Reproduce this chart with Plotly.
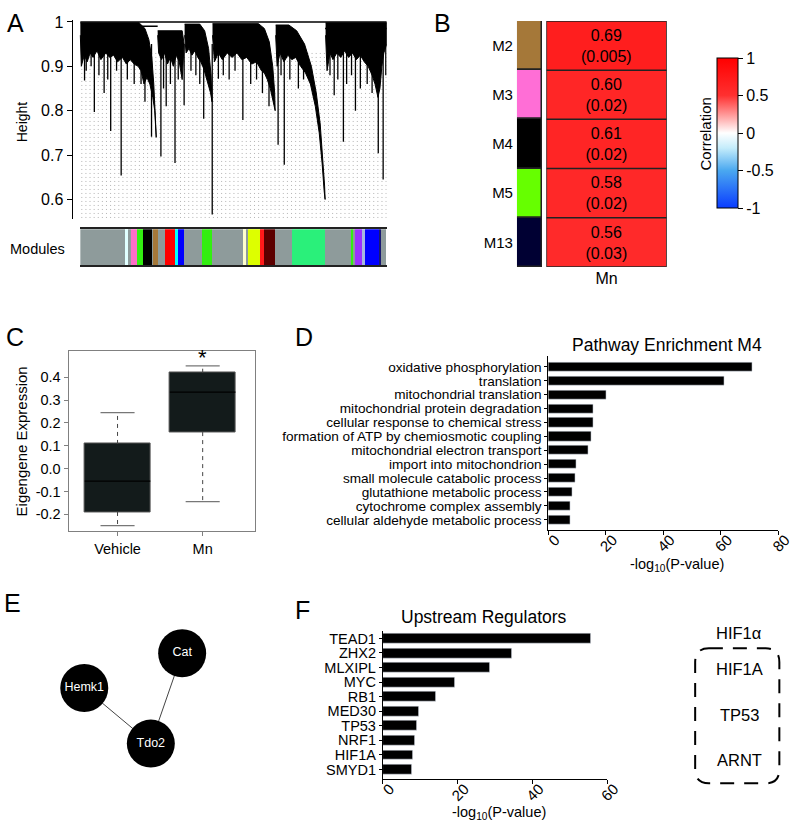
import plotly.graph_objects as go

W, H = 810, 828
FONT = "Arial, Liberation Sans, Helvetica, sans-serif"


def px(x):
    return x / W


def py(y):
    return 1 - y / H


# ---------------- A: dendrogram (leaf units 0..313) ----------------
# outline of each black branch mass: leaf position and height
cluster_leaf = [
    [0, 60, 66, 70, 73, 75, 76.5, 77.5, 76, 74, 71, 68, 65, 62, 59, 55, 51, 47, 43, 38, 34, 30,
     26, 21, 17, 13, 10, 7, 4, 1, 0],
    [79, 104, 106, 105, 104, 101, 98, 95, 92, 89, 86, 83, 80, 79],
    [106.5, 122, 127, 131, 133.5, 134.5, 133, 129, 126, 123, 120, 117, 114, 111, 108, 106.5],
    [135, 182, 188, 193, 196.5, 198.5, 199, 197, 194, 191, 188, 185, 180, 175, 170, 165, 160,
     155, 150, 145, 141, 137, 135],
    [199.5, 213, 221, 229, 236, 241, 245, 248, 249.5, 250, 249, 247, 244, 240, 235, 230, 225,
     220, 216, 212, 208, 204, 201, 199.5],
    [250.5, 313, 313, 310, 308, 306, 304, 301, 298, 294, 290, 286, 282, 278, 274, 270, 266, 262,
     258, 255, 252, 250.5],
]
cluster_height = [
    [0.998, 0.998, 0.985, 0.96, 0.92, 0.86, 0.79, 0.74, 0.80, 0.83, 0.86, 0.875, 0.86, 0.89,
     0.90, 0.905, 0.915, 0.905, 0.92, 0.91, 0.925, 0.92, 0.93, 0.915, 0.935, 0.92, 0.93, 0.91,
     0.925, 0.90, 0.97],
    [0.98, 0.98, 0.95, 0.90, 0.87, 0.91, 0.925, 0.90, 0.92, 0.905, 0.93, 0.915, 0.93, 0.97],
    [0.995, 0.995, 0.98, 0.94, 0.88, 0.82, 0.84, 0.87, 0.895, 0.91, 0.92, 0.935, 0.925, 0.94,
     0.93, 0.97],
    [0.996, 0.996, 0.985, 0.955, 0.90, 0.84, 0.80, 0.82, 0.85, 0.87, 0.885, 0.89, 0.91, 0.905,
     0.92, 0.915, 0.93, 0.92, 0.93, 0.915, 0.93, 0.91, 0.97],
    [0.993, 0.993, 0.98, 0.95, 0.90, 0.84, 0.77, 0.69, 0.63, 0.60, 0.62, 0.68, 0.75, 0.81, 0.86,
     0.885, 0.90, 0.92, 0.915, 0.925, 0.91, 0.93, 0.90, 0.97],
    [0.998, 0.998, 0.95, 0.93, 0.90, 0.85, 0.83, 0.86, 0.88, 0.90, 0.91, 0.925, 0.915, 0.93,
     0.92, 0.935, 0.92, 0.93, 0.915, 0.93, 0.89, 0.97],
]
drip_leaf = [4.3, 6, 11, 14.3, 19, 24.3, 28, 31, 37, 41.7, 48, 55, 62, 66, 72.7, 82.3, 85, 87.7,
             92, 96.7, 100, 106, 113, 118, 122, 126, 134.7, 141, 146, 152, 158, 166, 174, 180,
             186, 192.7, 202, 205, 208.3, 214, 222.7, 228, 255, 259.3, 263, 268.7, 272, 277,
             281, 286, 293, 298, 304.3, 309.3, 312]
drip_height = [0.868, 0.89, 0.90, 0.797, 0.88, 0.84, 0.87, 0.754, 0.89, 0.654, 0.87, 0.86, 0.86,
               0.82, 0.741, 0.697, 0.85, 0.81, 0.86, 0.682, 0.87, 0.812, 0.89, 0.88, 0.86, 0.782,
               0.566, 0.872, 0.88, 0.87, 0.89, 0.779, 0.86, 0.87, 0.84, 0.81, 0.723, 0.88, 0.678,
               0.87, 0.85, 0.87, 0.88, 0.835, 0.87, 0.73, 0.86, 0.88, 0.80, 0.85, 0.86, 0.84,
               0.704, 0.645, 0.88]
module_colors = ["#8e9b9b", "#e0ffff", "#8e9b9b", "#ff6ec7", "#33ee11", "#000000", "#8e9b9b",
                 "#a57839", "#8e9b9b", "#ff0000", "#00ffff", "#0000ff", "#8e9b9b", "#33ee11",
                 "#8e9b9b", "#ffffcc", "#8e9b9b", "#ddff00", "#ff1a1a", "#5c0000", "#8e9b9b",
                 "#2af07a", "#8e9b9b", "#33ee11", "#8e9b9b", "#9b30ff", "#a8b8e0", "#0000ff",
                 "#191970", "#8e9b9b"]
module_widths = [46, 3.3, 2.4, 7, 5.6, 9.4, 0.6, 5, 7.4, 10, 3.3, 6, 18.3, 10.7, 31.7, 2.6,
                 2.4, 12, 4, 11.6, 17.7, 33.3, 26.7, 2.3, 1.7, 6.7, 3.3, 14, 2.7, 5.3]

# ---------------- B: module-trait correlation ----------------
modules = ["M2", "M3", "M4", "M5", "M13"]
module_swatch = ["#a57839", "#ff6ed6", "#000000", "#66ff00", "#000033"]
corr = [0.69, 0.60, 0.61, 0.58, 0.56]
pvals = ["0.005", "0.02", "0.02", "0.02", "0.03"]
trait = ["Mn"]

# ---------------- C: eigengene boxplot ----------------
groups = ["Vehicle", "Mn"]
q1 = [-0.19, 0.16]
med = [-0.055, 0.335]
q3 = [0.108, 0.42]
lower = [-0.25, -0.145]
upper = [0.245, 0.45]

# ---------------- D: pathway enrichment ----------------
pathways = ["oxidative phosphorylation", "translation", "mitochondrial translation",
            "mitochondrial protein degradation", "cellular response to chemical stress",
            "formation of ATP by chemiosmotic coupling", "mitochondrial electron transport",
            "import into mitochondrion", "small molecule catabolic process",
            "glutathione metabolic process", "cytochrome complex assembly",
            "cellular aldehyde metabolic process"]
pathway_logp = [71.1, 61.2, 20.1, 15.6, 15.5, 14.8, 14.0, 9.9, 9.3, 8.3, 7.8, 7.5]

# ---------------- E: network ----------------
nodes = ["Cat", "Hemk1", "Tdo2"]
node_x = [183, 83, 151]
node_y = [652, 687, 743]
edges = [("Hemk1", "Tdo2"), ("Cat", "Tdo2")]

# ---------------- F: upstream regulators ----------------
regulators = ["TEAD1", "ZHX2", "MLXIPL", "MYC", "RB1", "MED30", "TP53", "NRF1", "HIF1A", "SMYD1"]
regulator_logp = [55.7, 34.6, 28.6, 19.4, 14.2, 9.5, 9.1, 8.5, 8.0, 7.7]
hif_members = ["HIF1A", "TP53", "ARNT"]

fig = go.Figure()

# A: faint hanging guides
gx, gy = [], []
g = 1.5
while g < 313:
    gx += [g, g, None]
    gy += [0.93, 0.552, None]
    g += 4.2
fig.add_trace(go.Scatter(x=gx, y=gy, mode="lines", xaxis="x", yaxis="y",
                         line=dict(color="#b4b4b4", width=1, dash="1px,3px")))

# A: drips
dx, dy = [], []
for x, h in zip(drip_leaf, drip_height):
    dx += [x, x, None]
    dy += [0.95, h, None]
fig.add_trace(go.Scatter(x=dx, y=dy, mode="lines", xaxis="x", yaxis="y",
                         line=dict(color="black", width=1.3)))

# A: branch masses
for lx, lh in zip(cluster_leaf, cluster_height):
    fig.add_trace(go.Scatter(x=lx, y=lh, fill="toself", fillcolor="black", mode="lines",
                             line=dict(color="black", width=1), xaxis="x", yaxis="y"))
fig.add_trace(go.Scatter(x=[0, 313, None, 60, 79, None, 250, 313],
                         y=[1.0, 1.0, None, 0.99, 0.99, None, 0.985, 0.985],
                         mode="lines", xaxis="x", yaxis="y",
                         line=dict(color="black", width=1.5)))

# A: module colour bar
starts = []
acc = 0
for w in module_widths:
    starts.append(acc)
    acc += w
fig.add_trace(go.Bar(x=module_widths, base=starts, y=[0] * len(module_widths), orientation="h",
                     width=1, marker=dict(color=module_colors, line=dict(width=0)),
                     xaxis="x2", yaxis="y2"))

# B: swatches and heatmap
fig.add_trace(go.Bar(x=[1] * len(modules), base=[-0.5] * len(modules), y=modules,
                     orientation="h", width=1,
                     marker=dict(color=module_swatch, line=dict(color="#222", width=1.5)),
                     xaxis="x3", yaxis="y3"))
fig.add_trace(go.Heatmap(
    z=[[c] for c in corr], x=trait, y=modules, zmin=-1, zmax=1,
    text=[[f"{c:.2f}<br>({p})"] for c, p in zip(corr, pvals)],
    texttemplate="%{text}", textfont=dict(size=16, color="black", family=FONT),
    colorscale=[[0, "#0a3cff"], [0.25, "#4aa8f0"], [0.4, "#c4ecfb"], [0.5, "#ffffff"],
                [0.62, "#ff9a9a"], [0.75, "#ff3030"], [1, "#ff0000"]],
    colorbar=dict(x=px(729), xanchor="left", xpad=0, y=py(128), yanchor="middle", ypad=0,
                  len=150, lenmode="pixels", thickness=21, outlinecolor="black",
                  outlinewidth=1, ticks="outside", ticklen=5, tickcolor="black",
                  tickvals=[-1, -0.5, 0, 0.5, 1], ticktext=["-1", "-0.5", "0", "0.5", "1"],
                  tickfont=dict(size=16)),
    xaxis="x4", yaxis="y4"))

# C: boxplot drawn from quartiles
xpos = list(range(len(groups)))
fig.add_trace(go.Bar(x=xpos, y=[b - a for a, b in zip(q1, q3)], base=q1, width=0.77,
                     marker=dict(color="#131b1b", line=dict(color="#555", width=1)),
                     xaxis="x5", yaxis="y5"))
wx, wy, cx, cy, mx, my = [], [], [], [], [], []
for i in xpos:
    wx += [i, i, None, i, i, None]
    wy += [q3[i], upper[i], None, q1[i], lower[i], None]
    cx += [i - 0.2, i + 0.2, None, i - 0.2, i + 0.2, None]
    cy += [upper[i], upper[i], None, lower[i], lower[i], None]
    mx += [i - 0.385, i + 0.385, None]
    my += [med[i], med[i], None]
fig.add_trace(go.Scatter(x=wx, y=wy, mode="lines", line=dict(color="#444", width=1, dash="4px,4px"),
                         xaxis="x5", yaxis="y5"))
fig.add_trace(go.Scatter(x=cx, y=cy, mode="lines", line=dict(color="#777", width=1.2),
                         xaxis="x5", yaxis="y5"))
fig.add_trace(go.Scatter(x=mx, y=my, mode="lines", line=dict(color="#000", width=1.2),
                         xaxis="x5", yaxis="y5"))

# D: pathway bars
fig.add_trace(go.Bar(x=pathway_logp, y=pathways, orientation="h", width=0.66,
                     marker=dict(color="black"), xaxis="x6", yaxis="y6"))

# F: regulator bars
fig.add_trace(go.Bar(x=regulator_logp, y=regulators, orientation="h", width=0.68,
                     marker=dict(color="black"), xaxis="x7", yaxis="y7"))

# E: network
pos = {n: (x, y) for n, x, y in zip(nodes, node_x, node_y)}
ex, ey = [], []
for a, b in edges:
    ex += [pos[a][0], pos[b][0], None]
    ey += [pos[a][1], pos[b][1], None]
fig.add_trace(go.Scatter(x=ex, y=ey, mode="lines", line=dict(color="#444", width=1),
                         xaxis="x8", yaxis="y8"))
fig.add_trace(go.Scatter(x=node_x, y=node_y, mode="markers+text", text=nodes,
                         textposition="middle center",
                         textfont=dict(color="white", size=12.5, family=FONT),
                         marker=dict(size=48, color="black", line=dict(width=0)),
                         xaxis="x8", yaxis="y8"))

hidden = dict(visible=False, showgrid=False, zeroline=False)
rot_ticks = dict(tickangle=-45, ticklabelshift=7, ticklabelstandoff=-10)
fig.update_layout(
    width=W, height=H, margin=dict(l=0, r=0, t=0, b=0),
    paper_bgcolor="white", plot_bgcolor="white", showlegend=False, hovermode=False,
    font=dict(family=FONT, color="black"), bargap=0,
    xaxis=dict(domain=[px(71), px(392)], range=[-8, 313], **hidden),
    yaxis=dict(domain=[py(215), py(14)], range=[0.555, 1.0045], anchor="x",
               tickvals=[0.6, 0.7, 0.8, 0.9, 1.0], ticktext=["0.6", "0.7", "0.8", "0.9", "1"],
               showline=True, linecolor="black", linewidth=1, ticks="outside", ticklen=5,
               tickcolor="black", tickfont=dict(size=16), showgrid=False, zeroline=False),
    xaxis2=dict(domain=[px(79), px(392)], range=[0, 313], anchor="y2", showline=True,
                mirror=True, linecolor="#222", linewidth=1.5, showticklabels=False,
                ticks="", showgrid=False, zeroline=False),
    yaxis2=dict(domain=[py(261), py(225)], range=[-0.5, 0.5], anchor="x2", **hidden),
    xaxis3=dict(domain=[px(525), px(551)], range=[-0.5, 0.5], anchor="y3", **hidden),
    yaxis3=dict(domain=[py(263), py(15)], range=[4.5, -0.5], anchor="x3", type="category",
                categoryorder="array", categoryarray=modules, tickvals=modules, ticks="",
                showline=False, showgrid=False, zeroline=False, tickfont=dict(size=15),
                ticklabelstandoff=3),
    xaxis4=dict(domain=[px(555), px(678)], range=[-0.5, 0.5], anchor="y4", ticks="",
                showline=False, showgrid=False, zeroline=False, tickfont=dict(size=16)),
    yaxis4=dict(domain=[py(263), py(15)], range=[4.5, -0.5], anchor="x4", type="category",
                categoryorder="array", categoryarray=modules, showticklabels=False,
                showgrid=False, zeroline=False),
    xaxis5=dict(domain=[px(67), px(257)], range=[-0.575, 1.61], anchor="y5",
                tickvals=xpos, ticktext=groups, showline=True, mirror=True, linecolor="#808080",
                ticks="outside", ticklen=4, tickcolor="#808080", tickfont=dict(size=14.5),
                showgrid=False, zeroline=False),
    yaxis5=dict(domain=[py(529), py(348)], range=[-0.274, 0.513], anchor="x5",
                tickvals=[-0.2, -0.1, 0.0, 0.1, 0.2, 0.3, 0.4],
                ticktext=["-0.2", "-0.1", "0.0", "0.1", "0.2", "0.3", "0.4"],
                showline=True, mirror=True, linecolor="#808080", ticks="outside", ticklen=4,
                tickcolor="#808080", tickfont=dict(size=14.5), showgrid=False, zeroline=False),
    xaxis6=dict(domain=[px(557), px(792)], range=[0, 80], anchor="y6",
                tickvals=[0, 20, 40, 60, 80], showline=True, linecolor="black",
                ticks="outside", ticklen=4, tickcolor="black", tickfont=dict(size=15),
                showgrid=False, zeroline=False, **rot_ticks),
    yaxis6=dict(domain=[py(528), py(353)], range=[11.75, -0.75], anchor="x6", type="category",
                categoryorder="array", categoryarray=pathways, tickvals=pathways,
                showline=True, linecolor="black", ticks="outside", ticklen=3,
                tickcolor="black", tickfont=dict(size=13.6), showgrid=False, zeroline=False),
    xaxis7=dict(domain=[px(388), px(617)], range=[0, 60], anchor="y7",
                tickvals=[0, 20, 40, 60], showline=True, linecolor="black",
                ticks="outside", ticklen=4, tickcolor="black", tickfont=dict(size=15),
                showgrid=False, zeroline=False, **rot_ticks),
    yaxis7=dict(domain=[py(779), py(630)], range=[9.68, -0.48], anchor="x7", type="category",
                categoryorder="array", categoryarray=regulators, tickvals=regulators,
                showline=True, linecolor="black", ticks="outside", ticklen=3,
                tickcolor="black", tickfont=dict(size=14.5), showgrid=False, zeroline=False),
    xaxis8=dict(domain=[0, px(280)], range=[0, 280], anchor="y8", **hidden),
    yaxis8=dict(domain=[0, py(560)], range=[828, 560], anchor="x8", **hidden),
)

# heatmap cell borders
shapes = [dict(type="rect", xref="x4", yref="y4", x0=-0.5, x1=0.5, y0=-0.5,
               y1=len(modules) - 0.5, line=dict(color="#222", width=1.5))]
for i in range(len(modules) - 1):
    shapes.append(dict(type="line", xref="x4", yref="y4", x0=-0.5, x1=0.5, y0=i + 0.5,
                       y1=i + 0.5, line=dict(color="#222", width=1.5)))

# dashed rounded box around HIF1 complex
x0, x1, y0, y1, r = 707, 793, 647, 783, 14
pts = [("M", x0 + r, y0), ("L", x1 - r, y0), ("Q", x1, y0, x1, y0 + r), ("L", x1, y1 - r),
       ("Q", x1, y1, x1 - r, y1), ("L", x0 + r, y1), ("Q", x0, y1, x0, y1 - r),
       ("L", x0, y0 + r), ("Q", x0, y0, x0 + r, y0)]
path = ""
for p in pts:
    coords = p[1:]
    seg = " ".join(f"{px(coords[k]):.5f},{py(coords[k + 1]):.5f}" for k in range(0, len(coords), 2))
    path += f"{p[0]} {seg} "
shapes.append(dict(type="path", xref="paper", yref="paper", path=path + "Z",
                   line=dict(color="black", width=2, dash="14px,10px")))
fig.update_layout(shapes=shapes)


def note(text, x, y, size, angle=0, **kw):
    fig.add_annotation(text=text, x=px(x), y=py(y), xref="paper", yref="paper",
                       showarrow=False, textangle=angle, xanchor="center", yanchor="middle",
                       font=dict(size=size, color="black", family=FONT), **kw)


for letter, lx, ly in [("A", 13, 17), ("B", 449, 17), ("C", 12, 333), ("D", 307, 333),
                       ("E", 10, 601), ("F", 306, 608)]:
    note(letter, lx, ly, 25)

note("Height", 19.5, 117, 14, angle=-90)
note("Modules", 35.5, 245, 14.5)
note("Correlation", 717.5, 129, 15, angle=-90)
note("Eigengene Expression", 19, 439, 15, angle=-90)
note("Pathway Enrichment M4", 678, 341, 17.5)
note("-log<sub>10</sub>(P-value)", 688, 563, 14.5)
note("Upstream Regulators", 491.5, 615, 17.5)
note("-log<sub>10</sub>(P-value)", 507, 813, 14.5)
note("HIF1α", 752, 632, 16.5)
for name, yy in zip(hif_members, [668, 714, 759]):
    note(name, 752, yy, 16.5)

fig.add_annotation(text="*", x=1, y=upper[1], xref="x5", yref="y5", showarrow=False,
                   yanchor="bottom", yshift=-6, font=dict(size=22, color="black", family=FONT))

# page body margin would push the figure off its pixel grid
fig.write_html("out.html", config={"displayModeBar": False},
               post_script="document.body.style.margin='0px';")
